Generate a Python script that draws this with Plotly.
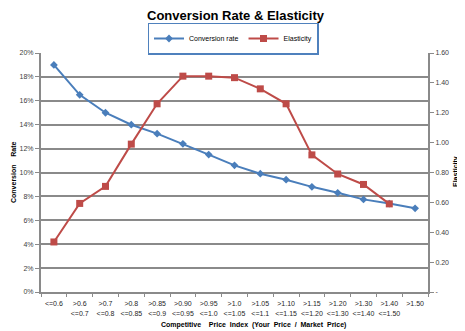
import plotly.graph_objects as go

categories = ["<=0.6", ">0.6<br><=0.7", ">0.7<br><=0.8", ">0.8<br><=0.85", ">0.85<br><=0.9",
              ">0.90<br><=0.95", ">0.95<br><=1.0", ">1.0<br><=1.05", ">1.05<br><=1.1",
              ">1.10<br><=1.15", ">1.15<br><=1.20", ">1.20<br><=1.30", ">1.30<br><=1.40",
              ">1.40<br><=1.50", ">1.50"]
conversion_rate = [0.19, 0.165, 0.150, 0.140, 0.1325, 0.124, 0.115, 0.106, 0.099,
                   0.094, 0.088, 0.083, 0.0775, 0.074, 0.070]
elasticity = [0.335, 0.593, 0.707, 0.99, 1.26, 1.445, 1.445, 1.435, 1.36, 1.26,
              0.918, 0.79, 0.72, 0.59]
left_ticks = [i / 100 for i in range(0, 21, 2)]
left_ticktext = [f"{i}%" for i in range(0, 21, 2)]
right_ticks = [0, 0.2, 0.4, 0.6, 0.8, 1.0, 1.2, 1.4, 1.6]
right_ticktext = ["-", "0.20", "0.40", "0.60", "0.80", "1.00", "1.20", "1.40", "1.60"]

xs = list(range(len(categories)))
FONT = "Liberation Sans"
GRID = "#8a8a8a"
OFF = 8  # browser default body margin
W, H = 465 - OFF, 331 - OFF
# plot area in reference pixels: left 41, right 428, top 53, bottom 292
L = 41 - OFF
R = W - (428 - OFF)
T = 53 - OFF
B = H - (292 - OFF)

pw = W - L - R
ph = H - T - B

def px_x(x):
    return (x - OFF - L) / pw

def px_y(y):
    return (H - B - (y - OFF)) / ph

fig = go.Figure()
fig.add_trace(go.Scatter(x=xs, y=conversion_rate, name="Conversion rate", mode="lines+markers",
                         line=dict(color="#4A7EBB", width=2),
                         marker=dict(symbol="diamond", size=6, color="#4A7EBB"), yaxis="y"))
fig.add_trace(go.Scatter(x=xs[:len(elasticity)], y=elasticity, name="Elasticity", mode="lines+markers",
                         line=dict(color="#BE4B48", width=2),
                         marker=dict(symbol="square", size=7, color="#BE4B48"), yaxis="y2"))

fig.update_layout(
    width=W, height=H,
    margin=dict(l=L, r=R, t=T, b=B, autoexpand=False),
    paper_bgcolor="white", plot_bgcolor="white",
    font=dict(family=FONT, size=7, color="#404040"),
    legend=dict(orientation="h", x=px_x(233), xanchor="center", y=px_y(38.5), yanchor="middle",
                bordercolor="#4F81BD", borderwidth=1.5, bgcolor="white",
                font=dict(family=FONT, size=7, color="black"),
                itemwidth=30, tracegroupgap=0),
    xaxis=dict(range=[-0.5, 14.5], tickvals=xs, ticktext=categories, ticks="",
               showgrid=False, showline=True, linecolor=GRID, linewidth=2, zeroline=False,
               automargin=False, ticklabelstandoff=4,
               tickfont=dict(size=7, color="#262626"),
               minor=dict(tick0=0.5, dtick=1, ticks="outside", ticklen=3, tickcolor=GRID, showgrid=False)),
    yaxis=dict(range=[0, 0.2], tickvals=left_ticks, ticktext=left_ticktext, automargin=False,
               showgrid=True, gridcolor=GRID, gridwidth=2, showline=True, linecolor=GRID, linewidth=2,
               zeroline=False, ticks="outside", ticklen=4, tickcolor=GRID,
               tickfont=dict(size=7, color="#404040")),
    yaxis2=dict(range=[0, 1.6], tickvals=right_ticks, ticktext=right_ticktext, overlaying="y",
                side="right", showgrid=False, showline=True, linecolor=GRID, linewidth=2,
                automargin=False, zeroline=False, ticks="outside", ticklen=4, tickcolor=GRID,
                tickfont=dict(size=7, color="#404040")),
)

fig.add_annotation(text="<b>Conversion Rate & Elasticity</b>",
                   xref="paper", yref="paper", x=px_x(236), y=px_y(15.5), showarrow=False,
                   xanchor="center", yanchor="middle", font=dict(size=13, color="black"),
                   borderpad=0)
fig.add_annotation(text="<b>Competitive    Price  Index  (Your  Price  /  Market  Price)</b>",
                   xref="paper", yref="paper", x=px_x(253), y=px_y(325), showarrow=False,
                   xanchor="center", yanchor="middle", font=dict(size=7, color="black"))
fig.add_annotation(text="<b>Conversion    Rate</b>", textangle=-90,
                   xref="paper", yref="paper", x=px_x(13), y=px_y(172), showarrow=False,
                   xanchor="center", yanchor="middle", font=dict(size=7, color="black"))
fig.add_annotation(text="<b>Elasticity</b>", textangle=-90,
                   xref="paper", yref="paper", x=px_x(456), y=px_y(172), showarrow=False,
                   xanchor="center", yanchor="middle", font=dict(size=7, color="black"))

fig.write_html("out.html")
